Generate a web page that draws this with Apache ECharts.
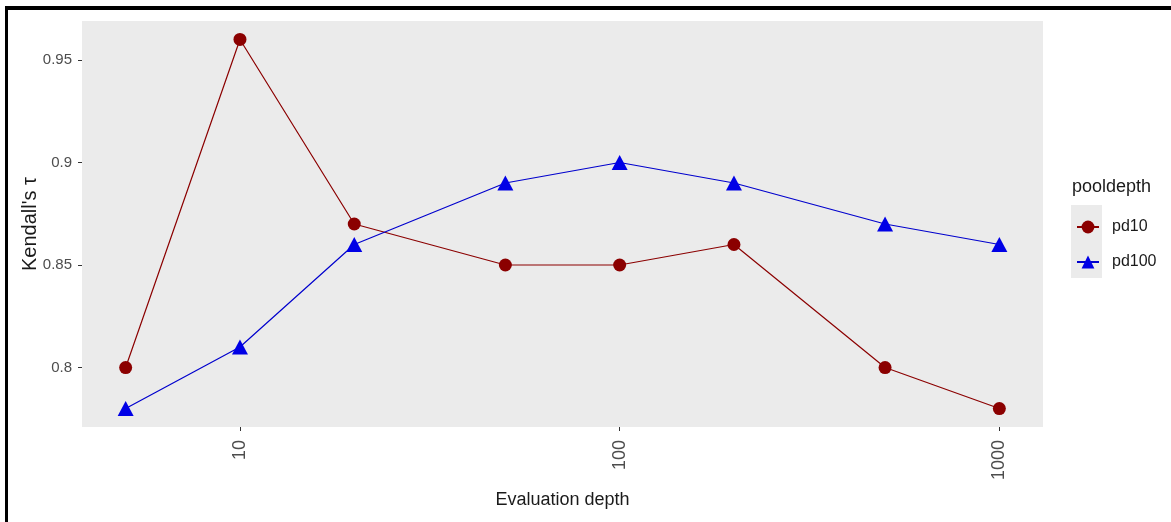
<!DOCTYPE html>
<html>
<head>
<meta charset="utf-8">
<script src="https://cdn.jsdelivr.net/npm/echarts@6/dist/echarts.min.js"></script>
<style>
html,body{margin:0;padding:0;background:#fff;}
#frame{position:absolute;left:5px;top:6px;width:1166px;height:516px;border-left:3px solid #000;border-top:4px solid #000;box-sizing:border-box;pointer-events:none;z-index:5;}
#chart{position:absolute;left:0;top:0;width:1171px;height:522px;}
</style>
</head>
<body>
<div id="chart"></div>
<div id="frame"></div>
<script>
const depths = [5, 10, 20, 50, 100, 200, 500, 1000];
const pd10 = [0.80, 0.96, 0.87, 0.85, 0.85, 0.86, 0.80, 0.78];
const pd100 = [0.78, 0.81, 0.86, 0.89, 0.90, 0.89, 0.87, 0.86];
const xTicks = [10, 100, 1000];
const yTicks = [0.8, 0.85, 0.9, 0.95];

const FONT = '"Liberation Sans", Arial, sans-serif';
const chart = echarts.init(document.getElementById('chart'), null, {renderer: 'canvas'});
chart.setOption({
  animation: false,
  backgroundColor: '#fff',
  grid: {left: 82, right: 128, top: 21, bottom: 95, show: true, backgroundColor: '#EBEBEB', borderWidth: 0},
  xAxis: {
    type: 'log', logBase: 10, min: 3.837, max: 1303,
    name: 'Evaluation depth', nameLocation: 'middle', nameGap: 64, nameMoveOverlap: false,
    nameTextStyle: {fontFamily: FONT, fontSize: 18, color: '#1a1a1a'},
    axisLine: {show: false},
    axisTick: {show: true, length: 4, lineStyle: {color: '#333'}, customValues: xTicks},
    axisLabel: {rotate: 90, fontFamily: FONT, fontSize: 18, color: '#4D4D4D', margin: 13,
                customValues: xTicks, formatter: v => String(v)},
    splitLine: {show: false}, minorTick: {show: false}
  },
  yAxis: {
    type: 'value', min: 0.771, max: 0.969,
    name: "Kendall's \u03c4", nameLocation: 'middle', nameGap: 42, nameMoveOverlap: false,
    nameTextStyle: {fontFamily: FONT, fontSize: 20, color: '#1a1a1a'},
    axisLine: {show: false},
    axisTick: {show: true, length: 4, lineStyle: {color: '#333'}, customValues: yTicks},
    axisLabel: {fontFamily: FONT, fontSize: 15, color: '#4D4D4D', margin: 10, customValues: yTicks},
    splitLine: {show: false}
  },
  legend: {
    orient: 'vertical', left: 1076, top: 219, padding: 0, itemWidth: 22, itemHeight: 16, itemGap: 19,
    textStyle: {fontFamily: FONT, fontSize: 16, color: '#1a1a1a', padding: [0, 0, 0, 8]},
    data: ['pd10', 'pd100']
  },
  graphic: [
    {type: 'rect', left: 1071, top: 205, z: -1, shape: {width: 31, height: 73}, style: {fill: '#EBEBEB'}},
    {type: 'text', left: 1072, top: 178, style: {text: 'pooldepth', fontFamily: FONT, fontSize: 18, fill: '#1a1a1a'}}
  ],
  series: [
    {name: 'pd10', type: 'line', data: depths.map((d, i) => [d, pd10[i]]),
     symbol: 'circle', symbolSize: 13, color: '#8B0000',
     lineStyle: {width: 1.2, color: '#8B0000'}, itemStyle: {color: '#8B0000'}},
    {name: 'pd100', type: 'line', data: depths.map((d, i) => [d, pd100[i]]),
     symbol: 'triangle', symbolSize: [16, 15], color: '#0000E0',
     lineStyle: {width: 1.2, color: '#0000CD'}, itemStyle: {color: '#0000E6'}}
  ]
});
</script>
</body>
</html>
